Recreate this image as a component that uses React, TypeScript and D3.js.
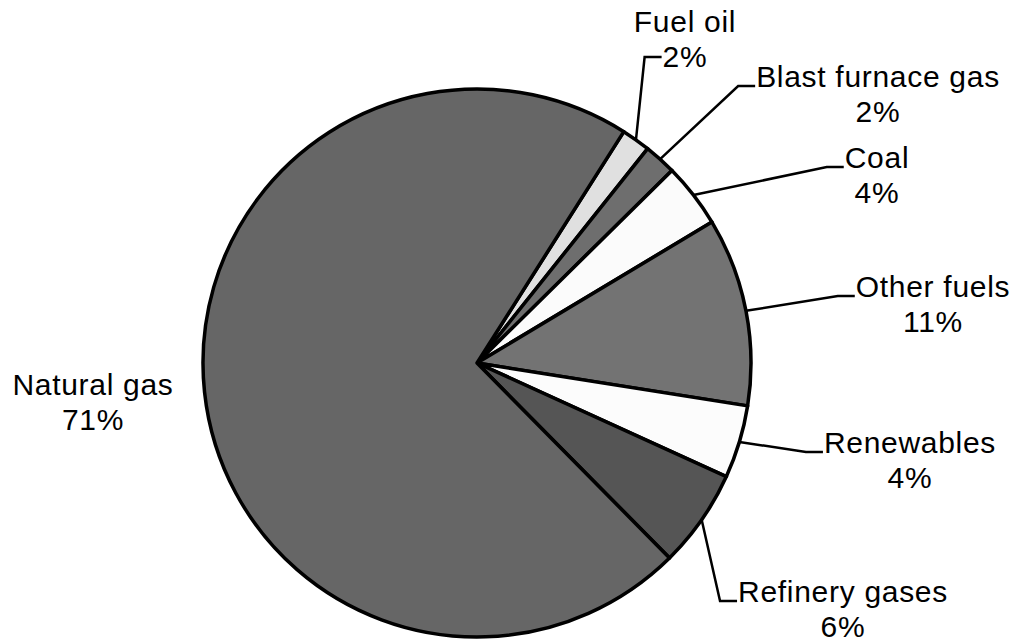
import { useRef, useEffect } from 'react'
import * as d3 from 'd3'

// slices in clockwise order, starting from the top-right
const fuels = ['Fuel oil', 'Blast furnace gas', 'Coal', 'Other fuels', 'Renewables', 'Refinery gases', 'Natural gas']
const shares = [1.7, 1.9, 3.8, 11.1, 4.3, 5.8, 71.4]
const shareLabels = ['2%', '2%', '4%', '11%', '4%', '6%', '71%']
const fills = ['#e0e0e0', '#6e6e6e', '#fbfbfb', '#737373', '#fcfcfc', '#555555', '#666666']

// label box centre x and first-line baseline, and where the leader attaches
const labelX = [685, 878, 877, 933, 910, 843, 93]
const labelY = [32, 87, 168, 297, 453, 602, 395]
const attachLine = [2, 1, 1, 1, 1, 1, 0] // 0 = no leader

const W = 1015
const H = 641

export default function App() {
  const svgRef = useRef<SVGSVGElement>(null)

  useEffect(() => {
    document.body.style.margin = '0'
    if (!svgRef.current) return
    const svg = d3.select(svgRef.current)
    svg.selectAll('*').remove()

    const cx = 477
    const cy = 363
    const radius = 274
    const startAngle = (32.4 * Math.PI) / 180

    const pie = d3.pie<number>()
      .sort(null)
      .value(d => d)
      .startAngle(startAngle)
      .endAngle(startAngle + Math.PI * 2)

    const arcs = pie(shares)
    const arc = d3.arc<d3.PieArcDatum<number>>().innerRadius(0).outerRadius(radius)

    const g = svg.append('g').attr('transform', `translate(${cx},${cy})`)

    g.selectAll('path.slice')
      .data(arcs)
      .enter()
      .append('path')
      .attr('class', 'slice')
      .attr('d', arc)
      .attr('fill', (d, i) => fills[i])
      .attr('stroke', '#000')
      .attr('stroke-width', 3.5)
      .attr('stroke-linejoin', 'round')

    const fontSize = 30
    const lineGap = 35

    const labels = svg.append('g')
      .attr('font-family', 'Liberation Sans, Arial, sans-serif')
      .attr('font-size', fontSize)
      .attr('letter-spacing', 0.7)
      .attr('fill', '#000')

    arcs.forEach((a, i) => {
      const t = labels.append('text').attr('text-anchor', 'middle')
      t.append('tspan').attr('x', labelX[i]).attr('y', labelY[i]).text(fuels[i])
      t.append('tspan').attr('x', labelX[i]).attr('y', labelY[i] + lineGap).text(shareLabels[i])

      if (attachLine[i] === 0) return
      const tspans = t.selectAll<SVGTSpanElement, unknown>('tspan').nodes()
      const target = tspans[attachLine[i] - 1]
      const wTarget = target.getComputedTextLength()
      const endX = labelX[i] - wTarget / 2 - 1
      const endY = attachLine[i] === 1 ? labelY[i] - 1 : labelY[i] + lineGap - 10

      const mid = (a.startAngle + a.endAngle) / 2
      const ax = cx + radius * Math.sin(mid)
      const ay = cy - radius * Math.cos(mid)
      const elbowX = endX - 17

      svg.append('path')
        .attr('d', d3.line()([[ax, ay], [elbowX, endY], [endX, endY]]))
        .attr('fill', 'none')
        .attr('stroke', '#000')
        .attr('stroke-width', 2.5)
    })
  }, [])

  return <svg ref={svgRef} width={W} height={H} style={{ display: 'block', background: '#fff' }} />
}
